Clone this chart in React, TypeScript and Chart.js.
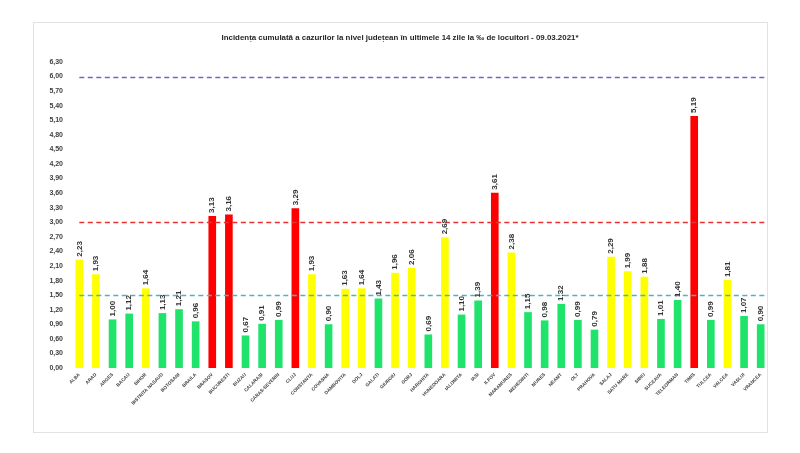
import { Chart, registerables, type ChartConfiguration, type Plugin } from "chart.js";
import { useEffect, useRef } from "react";

Chart.register(...registerables);

const counties = [
  "ALBA", "ARAD", "ARGES", "BACAU", "BIHOR", "BISTRITA NASAUD", "BOTOSANI", "BRAILA",
  "BRASOV", "BUCURESTI", "BUZAU", "CALARASI", "CARAS-SEVERIN", "CLUJ", "CONSTANTA",
  "COVASNA", "DAMBOVITA", "DOLJ", "GALATI", "GIURGIU", "GORJ", "HARGHITA", "HUNEDOARA",
  "IALOMITA", "IASI", "ILFOV", "MARAMURES", "MEHEDINTI", "MURES", "NEAMT", "OLT",
  "PRAHOVA", "SALAJ", "SATU MARE", "SIBIU", "SUCEAVA", "TELEORMAN", "TIMIS", "TULCEA",
  "VALCEA", "VASLUI", "VRANCEA",
];

const incidence = [
  2.23, 1.93, 1.0, 1.12, 1.64, 1.13, 1.21, 0.96, 3.13, 3.16, 0.67, 0.91, 0.99, 3.29,
  1.93, 0.9, 1.63, 1.64, 1.43, 1.96, 2.06, 0.69, 2.69, 1.1, 1.39, 3.61, 2.38, 1.15,
  0.98, 1.32, 0.99, 0.79, 2.29, 1.99, 1.88, 1.01, 1.4, 5.19, 0.99, 1.81, 1.07, 0.9,
];

// reference lines drawn across the plot
const thresholds = [6, 3, 1.5];
const thresholdColors = ["#7d5fc9", "#e8302e", "#4bb3c4"];

const yMax = 6.3;
const yStep = 0.3;

const TITLE =
  "Incidența cumulată a cazurilor la nivel județean în ultimele 14 zile la ‰ de locuitori - 09.03.2021*";
const FONT = "'Liberation Sans Narrow', 'Liberation Sans', Arial, sans-serif";

const fmt = (v: number) => v.toFixed(2).replace(".", ",");

function barColor(v: number) {
  if (v > 3) return "#ff0000";
  if (v >= 1.5) return "#ffff00";
  return "#1fe36a";
}

const thresholdPlugin: Plugin<"bar"> = {
  id: "thresholds",
  afterDatasetsDraw(chart) {
    const { ctx, scales } = chart;
    const x0 = scales.x.getPixelForValue(0);
    const x1 = chart.width - 33;
    ctx.save();
    ctx.lineWidth = 1.5;
    ctx.setLineDash([5, 3.5]);
    thresholds.forEach((t, i) => {
      const y = Math.round(scales.y.getPixelForValue(t)) + 0.5;
      ctx.strokeStyle = thresholdColors[i];
      ctx.beginPath();
      ctx.moveTo(x0, y);
      ctx.lineTo(x1, y);
      ctx.stroke();
    });
    ctx.restore();
  },
};

const valueLabelPlugin: Plugin<"bar"> = {
  id: "valueLabels",
  afterDraw(chart) {
    const { ctx } = chart;
    const meta = chart.getDatasetMeta(0);
    ctx.save();
    ctx.fillStyle = "#333333";
    ctx.font = `bold 8px ${FONT}`;
    ctx.textAlign = "left";
    ctx.textBaseline = "middle";
    meta.data.forEach((el, i) => {
      ctx.save();
      ctx.translate(el.x, el.y - 3);
      ctx.rotate(-Math.PI / 2);
      ctx.fillText(fmt(incidence[i]), 0, 0);
      ctx.restore();
    });
    ctx.restore();
  },
};

export default function App() {
  const canvasRef = useRef<HTMLCanvasElement>(null);

  useEffect(() => {
    const canvas = canvasRef.current;
    if (!canvas) return;
    const config: ChartConfiguration<"bar"> = {
      type: "bar",
      data: {
        labels: counties,
        datasets: [
          {
            data: incidence,
            backgroundColor: incidence.map(barColor),
            categoryPercentage: 1,
            barPercentage: 0.46,
          },
        ],
      },
      options: {
        responsive: true,
        maintainAspectRatio: false,
        animation: false,
        layout: { padding: { left: 31, right: 31, top: 0, bottom: 0 } },
        plugins: {
          legend: { display: false },
          tooltip: { enabled: false },
          title: {
            display: true,
            text: TITLE,
            color: "#262626",
            font: { family: FONT, size: 7.9, weight: "bold" },
            padding: { top: 33, bottom: 19.5 },
          },
        },
        scales: {
          x: {
            grid: { display: false, drawTicks: false },
            border: { display: false },
            ticks: {
              autoSkip: false,
              maxRotation: 45,
              minRotation: 45,
              padding: 4,
              color: "#404040",
              font: { family: FONT, size: 4.7, weight: "bold" },
            },
            afterFit(scale) {
              scale.height = 85;
            },
          },
          y: {
            min: 0,
            max: yMax,
            grid: { display: false, drawTicks: false },
            border: { display: false },
            ticks: {
              stepSize: yStep,
              padding: 8,
              color: "#404040",
              font: { family: FONT, size: 7, weight: "bold" },
              callback: (v) => fmt(Number(v)),
            },
            afterFit(scale) {
              scale.width = 40;
            },
          },
        },
      },
      plugins: [thresholdPlugin, valueLabelPlugin],
    };
    const chart = new Chart(canvas, config);
    return () => chart.destroy();
  }, []);

  return (
    <div style={{ position: "fixed", left: 0, top: 0, width: 800, height: 453, background: "#fff" }}>
      <div
        style={{
          position: "absolute",
          left: 33,
          top: 22,
          width: 733,
          height: 409,
          border: "1px solid #e2e2e2",
        }}
      />
      <div style={{ position: "absolute", left: 0, top: 0, width: 800, height: 453 }}>
        <canvas ref={canvasRef} role="img" aria-label={TITLE} />
      </div>
    </div>
  );
}
